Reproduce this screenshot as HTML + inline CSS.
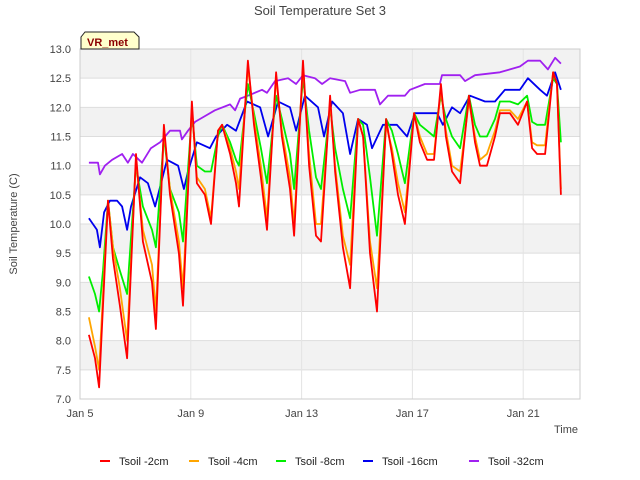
<!DOCTYPE html>
<html><head><meta charset="utf-8"><style>
body{margin:0;background:#fff;}
svg{display:block;font-family:"Liberation Sans","DejaVu Sans",sans-serif;}
</style></head><body>
<svg id="chart" width="640" height="480" viewBox="0 0 640 480">
<text x="320" y="15" text-anchor="middle" font-size="13" fill="#444">Soil Temperature Set 3</text>
<g id="bands"></g><g id="grid"></g>
<rect x="80" y="49" width="500" height="350" fill="none" stroke="#ccc"/>
<g id="yticks"></g><g id="xticks"></g><g id="series"></g>
<text x="17" y="224" transform="rotate(-90 17 224)" text-anchor="middle" font-size="11" fill="#444">Soil Temperature (C)</text>
<text x="578" y="433" text-anchor="end" font-size="11" fill="#444">Time</text>
<g>
<path d="M81,49 L81,37 L85,32 L134,32 L139,37 L139,49 Z" fill="#ffffcc" stroke="#222"/>
<text x="87" y="46" font-size="11" font-weight="bold" fill="#8b0000">VR_met</text>
</g>
<g id="legend"></g>
</svg>
<script>
const times=[5.32,5.54,5.69,5.83,6.01,6.19,6.44,6.70,7.02,7.27,7.60,7.74,8.03,8.25,8.57,8.72,9.04,9.22,9.51,9.73,9.98,10.13,10.42,10.63,10.74,11.06,11.28,11.53,11.75,12.08,12.29,12.58,12.73,13.05,13.27,13.52,13.70,14.03,14.21,14.49,14.75,15.04,15.22,15.47,15.72,16.05,16.26,16.48,16.73,17.06,17.27,17.53,17.78,18.03,18.21,18.43,18.72,19.04,19.26,19.44,19.69,19.98,20.16,20.52,20.81,21.14,21.32,21.50,21.79,22.08,22.22,22.36];
const soil2=[8.1,7.7,7.2,8.6,10.4,9.4,8.6,7.7,11.2,9.7,9.0,8.2,11.7,10.5,9.5,8.6,12.1,10.7,10.5,10.0,11.6,11.7,11.2,10.7,10.3,12.8,11.7,10.8,9.9,12.6,11.5,10.6,9.8,12.8,11.0,9.8,9.7,12.2,10.9,9.6,8.9,11.8,11.5,9.5,8.5,11.8,11.2,10.5,10.0,11.9,11.4,11.1,11.1,12.4,11.5,10.9,10.7,12.2,11.4,11.0,11.0,11.5,11.9,11.9,11.7,12.1,11.3,11.2,11.2,12.6,12.4,10.5];
const soil4=[8.4,7.9,7.5,8.8,10.4,9.6,8.9,8.0,11.1,9.9,9.3,8.5,11.6,10.6,9.7,8.9,12.0,10.8,10.6,10.1,11.6,11.7,11.3,10.9,10.6,12.7,11.8,11.0,10.1,12.5,11.6,10.8,10.0,12.7,11.2,10.0,10.0,12.1,11.0,9.8,9.3,11.8,11.5,9.7,8.9,11.7,11.3,10.7,10.2,11.9,11.5,11.2,11.2,12.3,11.6,11.0,10.9,12.1,11.5,11.1,11.2,11.6,11.95,11.95,11.8,12.1,11.4,11.35,11.35,12.6,12.4,10.6];
const soil8=[9.1,8.8,8.5,9.2,10.4,9.6,9.2,8.8,11.0,10.3,9.9,9.6,11.5,10.6,10.2,9.7,11.9,11.0,10.9,10.9,11.5,11.7,11.4,11.1,11.0,12.4,11.9,11.3,10.7,12.2,11.8,11.2,10.6,12.5,11.6,10.8,10.6,12.0,11.3,10.6,10.1,11.8,11.7,10.8,9.8,11.8,11.6,11.2,10.7,11.9,11.7,11.6,11.5,12.2,11.8,11.5,11.3,12.2,11.7,11.5,11.5,11.8,12.1,12.1,12.05,12.2,11.75,11.7,11.7,12.5,12.4,11.4];
const times16=[5.32,5.61,5.72,5.87,6.08,6.34,6.52,6.70,6.84,7.17,7.45,7.71,8.14,8.54,8.75,8.90,9.22,9.69,9.91,10.31,10.63,11.03,11.50,11.79,12.15,12.58,12.80,13.12,13.59,13.81,14.10,14.49,14.75,15.04,15.36,15.54,15.94,16.44,16.81,17.09,17.89,18.10,18.43,18.72,19.08,19.62,19.98,20.34,20.88,21.17,21.61,21.86,22.15,22.36];
const soil16=[10.1,9.9,9.6,10.2,10.4,10.4,10.3,9.9,10.3,10.8,10.7,10.3,11.1,11.0,10.6,10.9,11.4,11.3,11.5,11.7,11.6,12.1,12.0,11.5,12.1,12.0,11.6,12.2,12.0,11.5,12.1,11.9,11.2,11.8,11.7,11.3,11.7,11.7,11.5,11.9,11.9,11.7,12.0,11.9,12.2,12.1,12.1,12.3,12.3,12.5,12.3,12.2,12.6,12.3];
const times32=[5.32,5.65,5.72,5.90,6.16,6.52,6.73,6.91,7.24,7.56,7.89,8.07,8.25,8.61,8.68,8.90,9.15,9.51,9.87,10.42,10.60,10.78,11.06,11.57,11.75,12.04,12.51,12.80,13.05,13.48,13.74,14.03,14.57,14.75,15.11,15.65,15.83,16.12,16.73,16.91,17.45,17.99,18.07,18.72,18.90,19.26,20.16,20.88,21.17,21.61,21.89,22.15,22.36];
const soil32=[11.05,11.05,10.85,11.0,11.1,11.2,11.05,11.2,11.05,11.3,11.4,11.5,11.6,11.6,11.45,11.6,11.75,11.85,11.95,12.05,11.95,12.15,12.2,12.3,12.25,12.45,12.5,12.4,12.55,12.5,12.4,12.5,12.45,12.25,12.3,12.3,12.05,12.2,12.2,12.3,12.4,12.4,12.55,12.55,12.45,12.55,12.6,12.7,12.8,12.8,12.65,12.85,12.75];
const yTicks=[7.0,7.5,8.0,8.5,9.0,9.5,10.0,10.5,11.0,11.5,12.0,12.5,13.0];
const xTickDays=[5,9,13,17,21];
const xTickLabels=["Jan 5","Jan 9","Jan 13","Jan 17","Jan 21"];
const seriesNames=["Tsoil -2cm","Tsoil -4cm","Tsoil -8cm","Tsoil -16cm","Tsoil -32cm"];
const seriesColors=["#ff0000","#ffa500","#00ee00","#0000ee","#a020f0"];

const NS="http://www.w3.org/2000/svg";
const X0=80,X1=580,Y0=399,Y1=49;
function xs(d){return X0+(d-5)*(X1-X0)/18.05;}
function ys(v){return Y0-(v-7)*(Y0-Y1)/6;}
function mk(t,a,p){const e=document.createElementNS(NS,t);for(const k in a)e.setAttribute(k,a[k]);p.appendChild(e);return e;}
const bands=document.getElementById('bands'),grid=document.getElementById('grid'),yt=document.getElementById('yticks'),xt=document.getElementById('xticks');
for(let i=0;i<yTicks.length-1;i++){
  if((yTicks.length-2-i)%2===0){
    const r=mk('rect',{x:X0,y:ys(yTicks[i+1]),width:X1-X0,height:ys(yTicks[i])-ys(yTicks[i+1]),fill:'#f2f2f2'},bands);
    
    
  }
}
yTicks.forEach(v=>{
  const l=mk('line',{x1:X0,x2:X1,y1:ys(v),y2:ys(v),stroke:'#dddddd'},grid);
  
  
  const t=mk('text',{x:X0-9,y:ys(v)+4,'text-anchor':'end','font-size':'11',fill:'#444'},yt);
  t.textContent=v.toFixed(1);
  
  
});
xTickDays.forEach((d,i)=>{
  const l=mk('line',{x1:xs(d),x2:xs(d),y1:Y1,y2:Y0,stroke:'#e4e4e4'},grid);
  
  
  const t=mk('text',{x:xs(d),y:Y0+18,'text-anchor':'middle','font-size':'11',fill:'#444'},xt);
  t.textContent=xTickLabels[i];
  
  
});
const sg=document.getElementById('series');
const allT=[times,times,times,times16,times32],allV=[soil2,soil4,soil8,soil16,soil32];
const order=[4,3,2,1,0];
order.forEach(k=>{
  const pts=allT[k].map((d,i)=>xs(d).toFixed(1)+','+ys(allV[k][i]).toFixed(1)).join(' ');
  const p=mk('polyline',{points:pts,fill:'none',stroke:seriesColors[k],'stroke-width':'1.8','stroke-linejoin':'round'},sg);
  
  
});
const lg=document.getElementById('legend');
const lx=[100,189,276,363,469];
seriesNames.forEach((n,i)=>{
  const g=mk('g',{},lg);
  
  
  mk('line',{x1:lx[i],x2:lx[i]+10,y1:461,y2:461,stroke:seriesColors[i],'stroke-width':'2'},g);
  const t=mk('text',{x:lx[i]+19,y:465,'font-size':'11',fill:'#222'},g);
  t.textContent=n;
});
</script>
</body></html>
